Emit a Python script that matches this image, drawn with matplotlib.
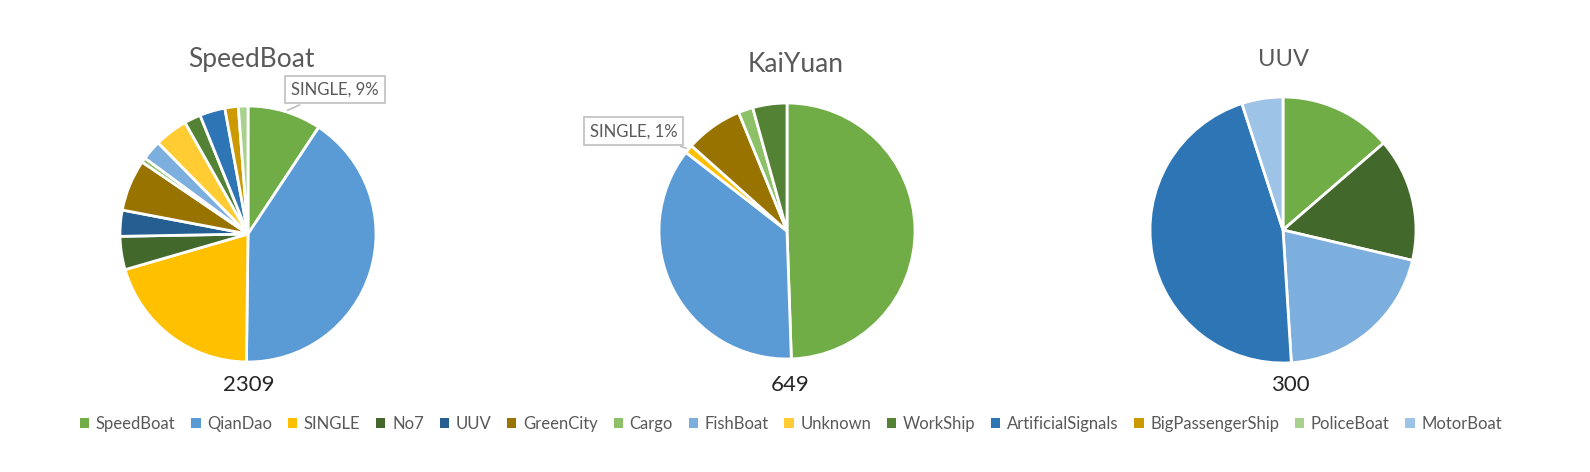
import matplotlib
matplotlib.use('Agg')
import matplotlib.pyplot as plt
from matplotlib.patches import Patch
import numpy as np

plt.rcParams['font.family'] = ['Lato', 'DejaVu Sans']

# categories shared by all three pies (legend order)
categories = ['SpeedBoat', 'QianDao', 'SINGLE', 'No7', 'UUV', 'GreenCity', 'Cargo',
              'FishBoat', 'Unknown', 'WorkShip', 'ArtificialSignals',
              'BigPassengerShip', 'PoliceBoat', 'MotorBoat']
colors = ['#70AD47', '#5B9BD5', '#FFC000', '#43682B', '#255E91', '#997300', '#8CC168',
          '#7CAFDD', '#FFCD33', '#548235', '#2E75B6', '#CC9A00', '#A9D18E', '#9DC3E6']

speedboat = [215, 944, 469, 97, 76, 150, 14, 58, 97, 48, 74, 39, 28, 0]
kaiyuan = [321, 234, 7, 0, 0, 47, 12, 0, 0, 28, 0, 0, 0, 0]
uuv = [41, 0, 0, 45, 0, 0, 0, 61, 0, 0, 138, 0, 0, 15]

titles = ['SpeedBoat', 'KaiYuan', 'UUV']
totals = ['2309', '649', '300']
# callout labels: (pie index, category, text)
callouts = [(0, 'SpeedBoat', 'SINGLE, 9%'), (1, 'SINGLE', 'SINGLE, 1%')]

W, H = 1590, 472
fig = plt.figure(figsize=(W / 100, H / 100), dpi=100)


def fx(x):
    return x / W


def fy(y):
    return 1 - y / H


# pie layout in pixels: centre x, centre y, radius
layout = [(248, 234, 128), (787, 231, 128), (1283, 230, 133)]
title_pos = [(251, 60, 19), (796, 64, 19), (1283, 60, 17)]
total_pos = [(249, 385), (790, 385), (1290, 385)]
callout_text = [(0.68, 1.13), (-1.2, 0.78)]

axes = []
wedge_map = []
for i, vals in enumerate([speedboat, kaiyuan, uuv]):
    cx, cy, r = layout[i]
    ax = fig.add_axes([fx(cx - r), fy(cy + r), 2 * r / W, 2 * r / H])
    idx = [k for k, v in enumerate(vals) if v > 0]
    wedges, _ = ax.pie([vals[k] for k in idx], colors=[colors[k] for k in idx],
                       startangle=90, counterclock=False,
                       wedgeprops=dict(edgecolor='white', linewidth=2))
    ax.set_xlim(-1, 1)
    ax.set_ylim(-1, 1)
    axes.append(ax)
    wedge_map.append({categories[k]: w for k, w in zip(idx, wedges)})

    tx, ty, ts = title_pos[i]
    fig.text(fx(tx), fy(ty), titles[i], ha='center', va='center', fontsize=ts, color='#595959')
    nx, ny = total_pos[i]
    fig.text(fx(nx), fy(ny), totals[i], ha='center', va='center', fontsize=16, color='#262626')

for j, (i, cat, txt) in enumerate(callouts):
    w = wedge_map[i][cat]
    mid = np.deg2rad((w.theta1 + w.theta2) / 2)
    axes[i].annotate(txt, xy=(np.cos(mid), np.sin(mid)), xytext=callout_text[j],
                     ha='center', va='center', fontsize=12, color='#595959',
                     annotation_clip=False,
                     bbox=dict(boxstyle='square,pad=0.35', fc='white', ec='#BFBFBF', lw=1.2),
                     arrowprops=dict(arrowstyle='-', color='#BFBFBF', lw=1.2))

handles = [Patch(facecolor=c, edgecolor='none') for c in colors]
fig.legend(handles, categories, loc='center', bbox_to_anchor=(fx(791), fy(424)),
           ncol=len(categories), frameon=False, fontsize=12, labelcolor='#595959',
           handlelength=0.55, handleheight=0.55, handletextpad=0.4, columnspacing=0.95)

plt.savefig('out.png', dpi=100)
plt.close()
